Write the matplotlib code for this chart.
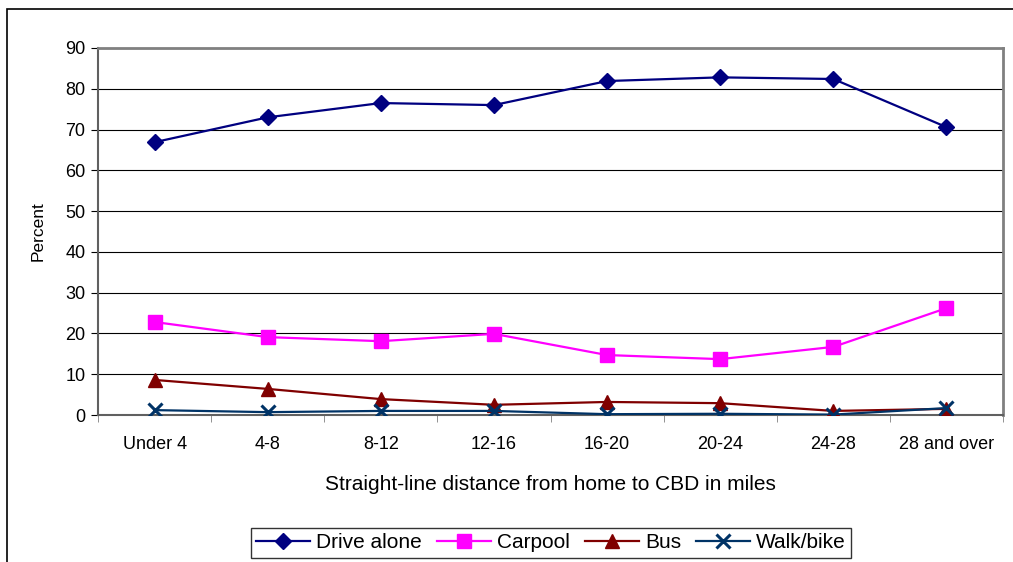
import numpy as np
import matplotlib.pyplot as plt
from matplotlib.patches import Rectangle

plt.rcParams['font.family'] = ['Liberation Sans', 'DejaVu Sans']

categories = ['Under 4', '4-8', '8-12', '12-16', '16-20', '20-24', '24-28', '28 and over']
drive_alone = [66.9, 73.0, 76.5, 76.0, 81.9, 82.8, 82.4, 70.6]
carpool = [22.8, 19.1, 18.1, 19.9, 14.7, 13.7, 16.7, 26.2]
bus = [8.6, 6.4, 3.9, 2.5, 3.2, 2.9, 1.0, 1.5]
walk_bike = [1.2, 0.7, 1.0, 1.0, 0.2, 0.3, 0.1, 1.7]

fig = plt.figure(figsize=(10.13, 5.62), dpi=100)
W, H = 1013, 562
ax = fig.add_axes([98 / W, 1 - 415 / H, 905 / W, 367 / H])

# outer chart frame (runs off the right and bottom edges)
fig.patches.append(Rectangle((7 / W, -0.05), 1.2, 1 - 9 / H + 0.05,
                             transform=fig.transFigure, fill=False,
                             edgecolor='black', linewidth=1.2))

x = np.arange(len(categories))
ax.plot(x, drive_alone, color='#000080', marker='D', markersize=8, lw=1.6,
        label='Drive alone', zorder=5)
ax.plot(x, carpool, color='#FF00FF', marker='s', markersize=10, lw=1.6,
        label='Carpool', zorder=4)
ax.plot(x, bus, color='#800000', marker='^', markersize=10, lw=1.6,
        label='Bus', zorder=3)
ax.plot(x, walk_bike, color='#003366', marker='x', markersize=10, mew=2.2, lw=1.6,
        label='Walk/bike', zorder=6)

ax.set_xlim(-0.5, len(categories) - 0.5)
ax.set_ylim(0, 90)
ax.set_yticks(range(0, 91, 10))
ax.yaxis.grid(True, color='black', linewidth=0.8)
ax.set_axisbelow(True)

ax.set_xticks(x)
ax.set_xticklabels(categories)
ax.set_xticks(np.arange(-0.5, len(categories)), minor=True)
ax.tick_params(axis='x', which='major', length=0, pad=15, labelsize=13)
ax.tick_params(axis='x', which='minor', length=5, direction='out', color='#808080')
ax.tick_params(axis='y', length=5, direction='out', labelsize=13, pad=4)

for side in ['top', 'right']:
    ax.spines[side].set_color('#808080')
    ax.spines[side].set_linewidth(2)
for side in ['left', 'bottom']:
    ax.spines[side].set_color('#606060')
    ax.spines[side].set_linewidth(1.5)

ax.set_ylabel('Percent', fontsize=12.5, labelpad=14)
ax.set_xlabel('Straight-line distance from home to CBD in miles', fontsize=15, labelpad=16)

leg = ax.legend(loc='center', bbox_to_anchor=(551 / W, 1 - 543 / H),
                bbox_transform=fig.transFigure, ncol=4, fontsize=15,
                frameon=True, fancybox=False, handlelength=2.6,
                handletextpad=0.3, columnspacing=0.7, borderpad=0.25,
                borderaxespad=0)
leg.get_frame().set_edgecolor('black')
leg.get_frame().set_linewidth(1)

fig.savefig('out.png', dpi=100)
